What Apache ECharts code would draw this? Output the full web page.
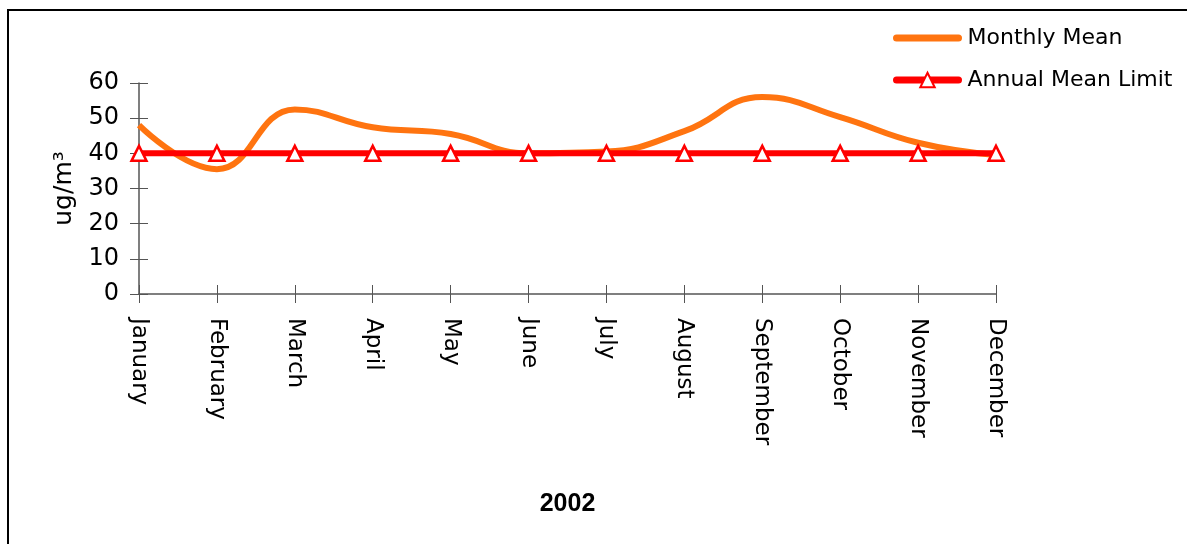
<!DOCTYPE html>
<html>
<head>
<meta charset="utf-8">
<script src="https://cdn.jsdelivr.net/npm/echarts@6/dist/echarts.min.js"></script>
<style>
  html, body { margin: 0; padding: 0; background: #fff; }
  #chart { width: 1187px; height: 544px; }
</style>
</head>
<body>
<div id="chart"></div>
<script>
// months and values
const months = ['January', 'February', 'March', 'April', 'May', 'June',
    'July', 'August', 'September', 'October', 'November', 'December'];
const monthlyMean = [48, 35.5, 52.5, 47.4, 45.5, 40, 40.5, 46.3, 56, 50.3, 43, 39.5];
const annualLimit = [40, 40, 40, 40, 40, 40, 40, 40, 40, 40, 40, 40];
const yTicks = [0, 60, 10];   // min, max, interval

const font = '"Comic Sans MS", "DejaVu Sans", sans-serif';

const chart = echarts.init(document.getElementById('chart'));

const options = {
    animation: false,
    backgroundColor: '#fff',
    graphic: [{
        type: 'rect',
        shape: { x: 8, y: 10, width: 1200, height: 560 },
        style: { fill: 'none', stroke: '#000', lineWidth: 2 },
        silent: true
    }],
    grid: { left: 139, right: 191, top: 83, bottom: 250 },
    legend: {
        orient: 'vertical',
        left: 888,
        top: 22,
        itemWidth: 62,
        itemHeight: 18,
        itemGap: 20,
        textStyle: { fontFamily: font, fontSize: 22, color: '#000', padding: [0, 0, 0, 4] },
        data: [
            { name: 'Monthly Mean', itemStyle: { opacity: 0 }, lineStyle: { width: 7, cap: 'round', opacity: 1 } },
            { name: 'Annual Mean Limit', lineStyle: { width: 7, cap: 'round' } }
        ]
    },
    xAxis: [{
        type: 'category',
        data: months,
        boundaryGap: false,
        axisLine: { lineStyle: { color: '#555', width: 1.5 } },
        axisTick: { alignWithLabel: true, length: 9, lineStyle: { color: '#555' } },
        axisLabel: {
            rotate: -90,
            margin: 24,
            fontFamily: font,
            fontSize: 23,
            color: '#000'
        },
        name: '2002',
        nameLocation: 'middle',
        nameGap: 198,
        nameTextStyle: { fontFamily: 'Liberation Sans, Arial, sans-serif', fontWeight: 'bold', fontSize: 25, color: '#000' }
    }, {
        type: 'category',
        data: months,
        boundaryGap: false,
        position: 'bottom',
        axisLine: { show: false },
        axisTick: { inside: true, length: 9, lineStyle: { color: '#555' } },
        axisLabel: { show: false }
    }],
    yAxis: [{
        type: 'value',
        min: yTicks[0],
        max: yTicks[1],
        interval: yTicks[2],
        splitLine: { show: false },
        axisLine: { show: true, lineStyle: { color: '#555', width: 1.5 } },
        axisTick: { show: true, length: 9, lineStyle: { color: '#555' } },
        axisLabel: { margin: 20, fontFamily: font, fontSize: 24, color: '#000' },
        name: 'ug/m³',
        nameLocation: 'middle',
        nameGap: 62,
        nameTextStyle: { fontFamily: font, fontSize: 25, color: '#000' }
    }, {
        type: 'value',
        min: yTicks[0],
        max: yTicks[1],
        interval: yTicks[2],
        position: 'left',
        splitLine: { show: false },
        axisLine: { show: false },
        axisTick: { show: true, inside: true, length: 9, lineStyle: { color: '#555' } },
        axisLabel: { show: false }
    }],
    series: [
        {
            name: 'Monthly Mean',
            type: 'line',
            data: monthlyMean,
            smooth: 0.45,
            showSymbol: false,
            symbol: 'none',
            z: 2,
            lineStyle: { color: '#ff7410', width: 6 },
            itemStyle: { color: '#ff7410' }
        },
        {
            name: 'Annual Mean Limit',
            type: 'line',
            data: annualLimit,
            symbol: 'triangle',
            symbolSize: 15,
            z: 3,
            lineStyle: { color: '#ff0000', width: 6 },
            itemStyle: { color: '#fff', borderColor: '#ff0000', borderWidth: 2.5 }
        }
    ]
};

chart.setOption(options);
</script>
</body>
</html>
